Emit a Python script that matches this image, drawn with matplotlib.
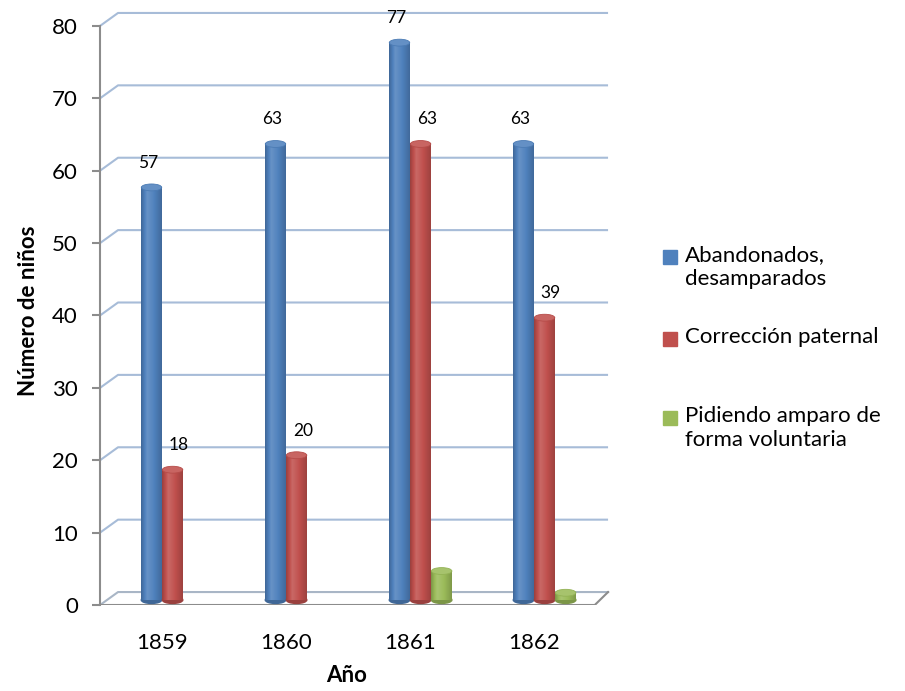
import numpy as np
import matplotlib
matplotlib.use("Agg")
import matplotlib.pyplot as plt
from matplotlib.patches import Ellipse, Rectangle
from matplotlib.colors import to_rgb

plt.rcParams['font.family'] = ['Lato', 'DejaVu Sans']

# ---- data ----
years = ['1859', '1860', '1861', '1862']
abandonados = [57, 63, 77, 63]
correccion = [18, 20, 63, 39]
voluntaria = [0, 0, 4, 1]
series_names = ['Abandonados,\ndesamparados', 'Corrección paternal',
                'Pidiendo amparo de\nforma voluntaria']
y_ticks = [0, 10, 20, 30, 40, 50, 60, 70, 80]
show_labels = [True, True, False]

colors = ['#4F81BD', '#C0504D', '#9BBB59']

# ---- geometry (category units / value units) ----
bar_w = 0.165
offsets = [-0.085, 0.085, 0.255]
front_dy = -0.69      # front edge of floor relative to bar base
back_dx, back_dy = 0.145, 1.1   # depth shift of back wall
x_axis = -0.5
x_right_back = 3.597
x_right_front = 3.49

fig = plt.figure(figsize=(9.05, 6.91), dpi=100)
ax = fig.add_axes([90 / 905, 86 / 691, 525 / 905, 600 / 691])
xlim = (-0.581, 3.653)
ylim = (-0.69, 82.2)

grid_c = '#A7BCD8'
axis_c = '#8C8C8C'

# back wall gridlines with their depth diagonals
for v in y_ticks[1:]:
    ax.plot([x_axis, x_axis + back_dx, x_right_back],
            [v + front_dy, v + back_dy, v + back_dy],
            color=grid_c, lw=1.5, zorder=1, solid_capstyle='butt')

# floor
ax.plot([x_axis, x_axis + back_dx, x_right_back],
        [front_dy, back_dy, back_dy], color='#A9B6C6', lw=1.5, zorder=1)
ax.plot([x_axis, x_right_front, x_right_back],
        [front_dy, front_dy, back_dy], color=axis_c, lw=1.5, zorder=2)


def shade(c, f):
    r = np.array(to_rgb(c))
    if f >= 0:
        return r + (1 - r) * f
    return r * (1 + f)


def cylinder(xc, v, c):
    if v <= 0:
        return
    x0, x1 = xc - bar_w / 2, xc + bar_w / 2
    cap_h = 0.95
    # bottom cap
    ax.add_patch(Ellipse((xc, 0), bar_w, cap_h, color=shade(c, -0.2), zorder=3))
    t = np.linspace(0, 1, 64)
    f = np.interp(t, [0, 0.3, 0.55, 1], [-0.2, 0.14, 0.04, -0.18])
    grad = np.array([shade(c, fi) for fi in f])[None, :, :]
    ax.imshow(grad, extent=[x0, x1, 0, v], aspect='auto',
              interpolation='bilinear', zorder=3)
    # top cap
    ax.add_patch(Ellipse((xc, v), bar_w, cap_h, color=shade(c, 0.12),
                         ec=shade(c, -0.05), lw=0.6, zorder=3.5))


all_series = [abandonados, correccion, voluntaria]
label_dx = [-0.03, 0.05, 0.0]
for i in range(len(years)):
    for s, vals in enumerate(all_series):
        xc = i + offsets[s]
        cylinder(xc, vals[i], colors[s])
        if show_labels[s]:
            ax.text(xc + label_dx[s], vals[i] + 3.4, str(vals[i]),
                    ha='center', va='center', fontsize=12.5, zorder=5)

ax.set_xlim(*xlim)
ax.set_ylim(*ylim)

# axes styling
for side in ['top', 'right', 'bottom']:
    ax.spines[side].set_visible(False)
ax.spines['left'].set_position(('data', x_axis))
ax.spines['left'].set_bounds(front_dy, 80 + front_dy)
ax.spines['left'].set_color(axis_c)
ax.spines['left'].set_linewidth(1.5)
ax.set_yticks([v + front_dy for v in y_ticks])
ax.set_yticklabels([str(v) for v in y_ticks], fontsize=16)
ax.tick_params(axis='y', length=6, width=1.5, color=axis_c, pad=10)
ax.set_xticks(range(len(years)))
ax.set_xticklabels(years, fontsize=16)
ax.tick_params(axis='x', length=0, pad=20)

ax.set_ylabel('Número de niños', fontsize=16, fontweight='bold')
ax.yaxis.set_label_coords(-0.098, 0.49)
ax.set_xlabel('Año', fontsize=16, fontweight='bold')
ax.xaxis.set_label_coords(0.4895, -0.1)

# legend
W, H = 905, 691
entries_y = [257, 339, 418]
for name, c, yc in zip(series_names, colors, entries_y):
    fig.patches.append(Rectangle((663 / W, 1 - (yc + 7) / H), 14 / W, 14 / H,
                                 transform=fig.transFigure, color=c))
    fig.text(685 / W, 1 - (yc - 12) / H, name, ha='left', va='top',
             fontsize=16, linespacing=1.25)

fig.savefig('out.png', dpi=100)
